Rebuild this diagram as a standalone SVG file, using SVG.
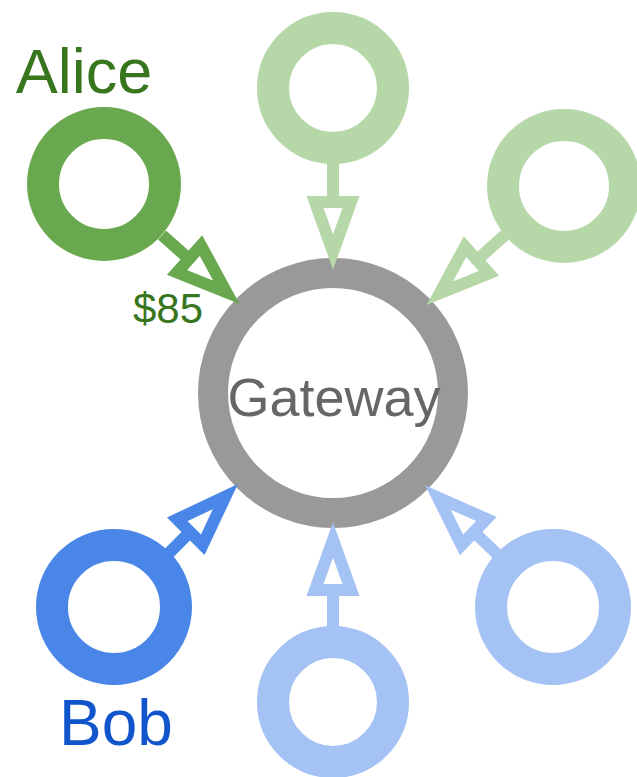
<svg xmlns="http://www.w3.org/2000/svg" width="637" height="777" viewBox="0 0 637 777">
<style>
.ring{fill:#ffffff;stroke-width:32}
.edge{fill:none;stroke-width:12}
.lbl{font-family:"Liberation Sans",Arial,sans-serif;text-anchor:middle}
</style>
<defs>
<marker id="m-green" markerUnits="userSpaceOnUse" orient="auto" refX="0" refY="0" markerWidth="80" markerHeight="60" overflow="visible"><path d="M0,-18 L50,0 L0,18 Z" fill="#ffffff" stroke="#6aa84f" stroke-width="12"/></marker>
<marker id="m-lgreen" markerUnits="userSpaceOnUse" orient="auto" refX="0" refY="0" markerWidth="80" markerHeight="60" overflow="visible"><path d="M0,-18 L50,0 L0,18 Z" fill="#ffffff" stroke="#b6d7a8" stroke-width="12"/></marker>
<marker id="m-blue" markerUnits="userSpaceOnUse" orient="auto" refX="0" refY="0" markerWidth="80" markerHeight="60" overflow="visible"><path d="M0,-18 L50,0 L0,18 Z" fill="#ffffff" stroke="#4a86e8" stroke-width="12"/></marker>
<marker id="m-lblue" markerUnits="userSpaceOnUse" orient="auto" refX="0" refY="0" markerWidth="80" markerHeight="60" overflow="visible"><path d="M0,-18 L50,0 L0,18 Z" fill="#ffffff" stroke="#a4c2f4" stroke-width="12"/></marker>
</defs>
<rect width="637" height="777" fill="#ffffff"/>
<g id="gateway">
<circle cx="333" cy="393" r="120" fill="#ffffff" stroke="#999999" stroke-width="30"/>
<text class="lbl" x="334" y="416" font-size="54" fill="#666666">Gateway</text>
</g>
<g id="alice">
<circle class="ring" cx="104" cy="184" r="61" stroke="#6aa84f"/>
<text class="lbl" x="84" y="93" font-size="63" fill="#38761d">Alice</text>
</g>
<g id="node-top">
<circle class="ring" cx="333" cy="88" r="60" stroke="#b6d7a8"/>
</g>
<g id="node-topright">
<circle class="ring" cx="564" cy="186" r="61" stroke="#b6d7a8"/>
</g>
<g id="bob">
<circle class="ring" cx="114" cy="607" r="62" stroke="#4a86e8"/>
<text class="lbl" x="116" y="745" font-size="64" fill="#1155cc">Bob</text>
</g>
<g id="node-bottom">
<circle class="ring" cx="333" cy="702" r="60" stroke="#a4c2f4"/>
</g>
<g id="node-bottomright">
<circle class="ring" cx="553" cy="607" r="62" stroke="#a4c2f4"/>
</g>
<g id="connectors">
<line class="edge" x1="162" y1="235" x2="189" y2="259" stroke="#6aa84f" marker-end="url(#m-green)"/>
<line class="edge" x1="333" y1="160" x2="333" y2="202" stroke="#b6d7a8" marker-end="url(#m-lgreen)"/>
<line class="edge" x1="505" y1="235" x2="477" y2="260" stroke="#b6d7a8" marker-end="url(#m-lgreen)"/>
<line class="edge" x1="169" y1="553" x2="190" y2="532" stroke="#4a86e8" marker-end="url(#m-blue)"/>
<line class="edge" x1="333" y1="630" x2="333" y2="590" stroke="#a4c2f4" marker-end="url(#m-lblue)"/>
<line class="edge" x1="497" y1="554" x2="474" y2="532" stroke="#a4c2f4" marker-end="url(#m-lblue)"/>
<text class="lbl" x="168" y="323" font-size="42" fill="#38761d">$85</text>
</g>
</svg>
